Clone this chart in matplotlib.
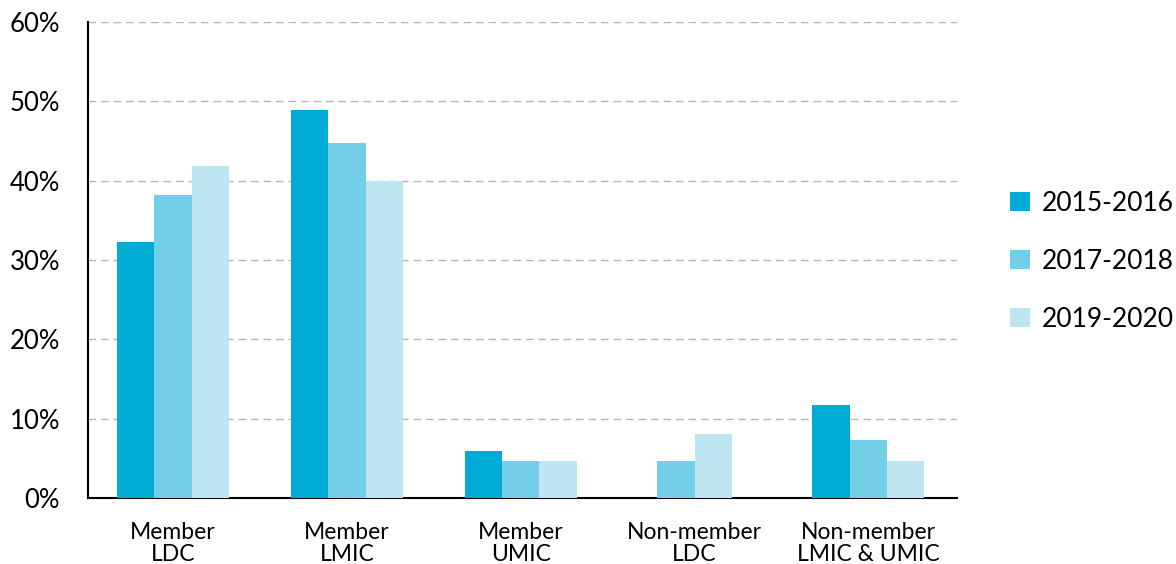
import numpy as np
import matplotlib
matplotlib.use("Agg")
import matplotlib.pyplot as plt
from matplotlib.patches import Patch

plt.rcParams['font.family'] = ['Lato', 'DejaVu Sans']

categories = ["Member\nLDC", "Member\nLMIC", "Member\nUMIC", "Non-member\nLDC", "Non-member\nLMIC & UMIC"]
periods = ["2015-2016", "2017-2018", "2019-2020"]
colors = ["#00ACD5", "#73CEE7", "#BDE5F2"]

v_2015 = [32.3, 48.9, 5.9, 0.0, 11.7]
v_2017 = [38.2, 44.8, 4.7, 4.7, 7.3]
v_2019 = [41.9, 40.0, 4.7, 8.1, 4.7]
series = [v_2015, v_2017, v_2019]

fig = plt.figure(figsize=(11.76, 5.64), dpi=100)
ax = fig.add_axes([0.0748, 0.117, 0.739, 0.844])

width = 0.215
x = np.arange(len(categories))
for i in range(len(categories)):
    # bars with no value are left out and the rest centred in the group
    present = [k for k in range(len(series)) if series[k][i] > 0]
    n = len(present)
    for j, k in enumerate(present):
        off = (j - (n - 1) / 2) * width
        ax.bar(x[i] + off, series[k][i], width=width, color=colors[k], zorder=3)

ax.set_xlim(-0.49, 4.51)
ax.set_ylim(0, 60)
ax.set_yticks(np.arange(0, 61, 10))
ax.set_yticklabels([f"{t}%" for t in range(0, 61, 10)], fontsize=18.5)
ax.set_xticks(x)
ax.set_xticklabels(categories, fontsize=16.5, linespacing=1.1)
ax.tick_params(axis="y", length=0, pad=20)
ax.tick_params(axis="x", length=0, pad=17)

ax.grid(axis="y", color="#b5b5b5", linewidth=1, linestyle=(0, (5.5, 3.5)), zorder=0)
for s in ["top", "right"]:
    ax.spines[s].set_visible(False)
ax.spines["left"].set_linewidth(1.5)
ax.spines["bottom"].set_linewidth(1.5)

handles = [Patch(facecolor=c, edgecolor="none") for c in colors]
fig.legend(handles, periods, loc="center left", bbox_to_anchor=(0.8588, 0.537),
           frameon=False, fontsize=19, handlelength=0.77, handleheight=0.77,
           handletextpad=0.42, labelspacing=1.25, borderaxespad=0, borderpad=0)

fig.savefig("out.png", dpi=100)
